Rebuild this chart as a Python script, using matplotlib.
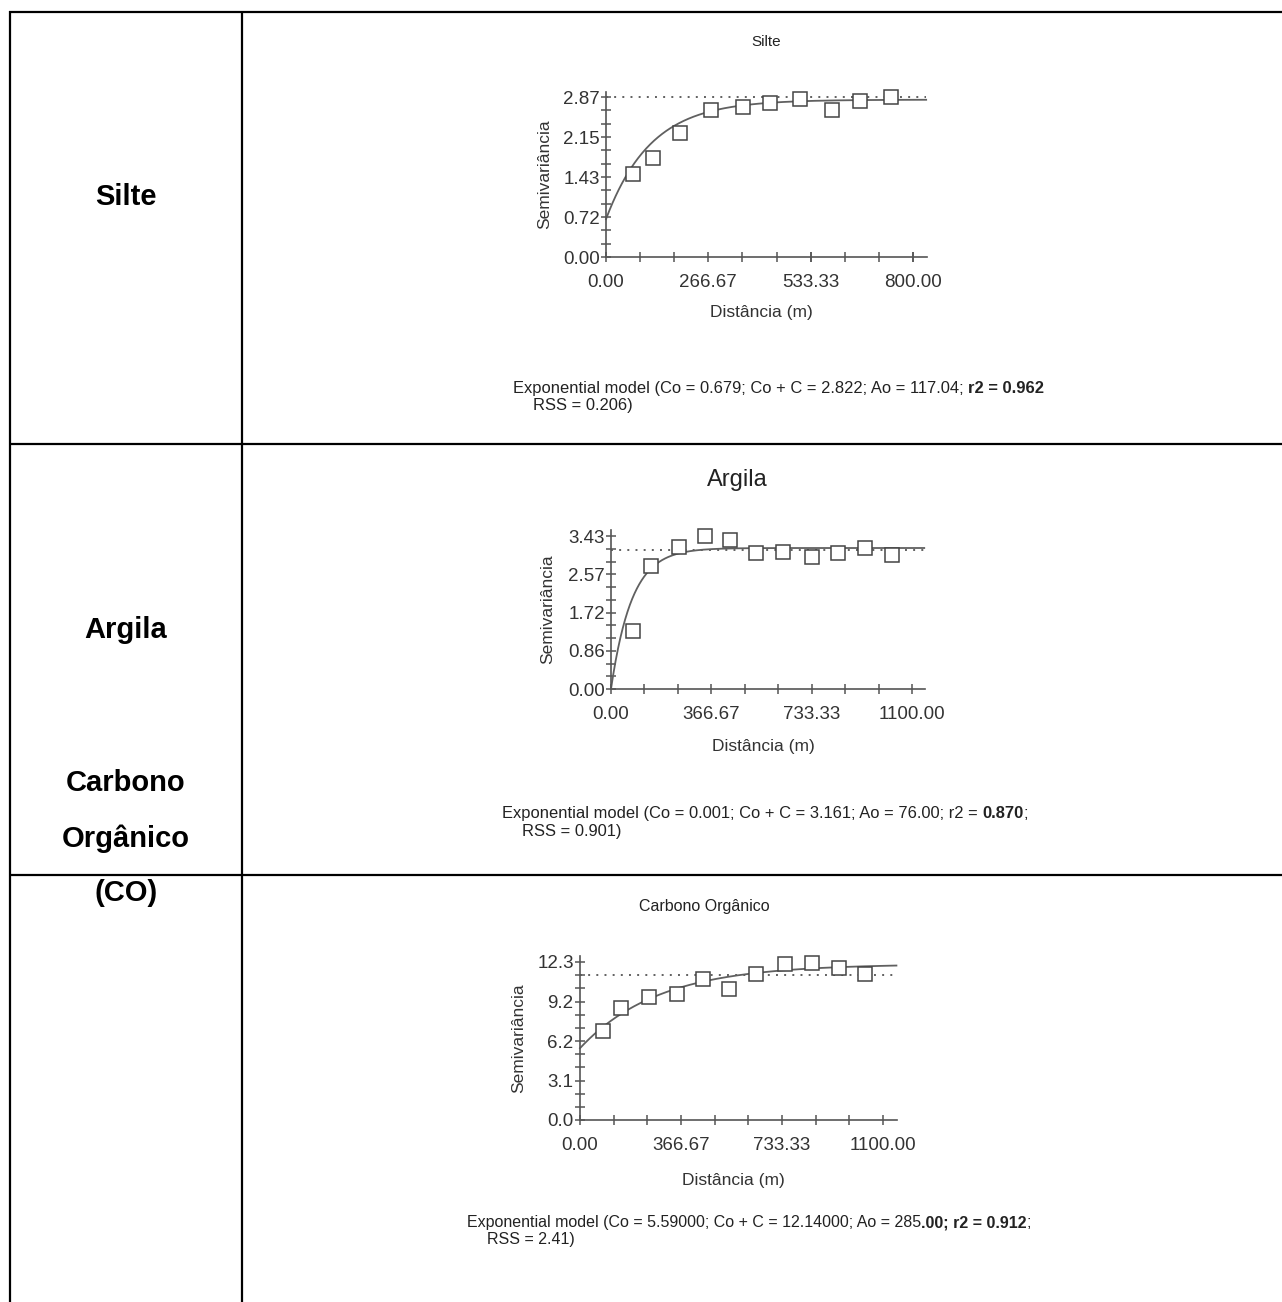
import numpy as np
import matplotlib
matplotlib.use("Agg")
import matplotlib.pyplot as plt
from matplotlib.lines import Line2D
from matplotlib.ticker import FixedLocator, FixedFormatter

plt.rcParams['font.family'] = ['Liberation Sans', 'DejaVu Sans']

# ---------------- data ----------------
row_labels = ["Silte", "Argila", "Carbono\nOrgânico\n(CO)"]
titles = ["Silte", "Argila", "Carbono Orgânico"]

# experimental semivariogram (lag distance in m, semivariance)
silte_lag = [70, 122, 193, 273, 358, 428, 506, 589, 663, 743]
silte_gamma = [1.49, 1.77, 2.22, 2.63, 2.69, 2.76, 2.83, 2.63, 2.80, 2.87]

argila_lag = [80, 146, 250, 345, 436, 531, 629, 735, 828, 929, 1027]
argila_gamma = [1.29, 2.76, 3.18, 3.43, 3.33, 3.06, 3.08, 2.97, 3.04, 3.15, 3.00]

co_lag = [85, 149, 251, 353, 447, 542, 638, 743, 843, 939, 1034]
co_gamma = [6.91, 8.73, 9.58, 9.84, 11.00, 10.23, 11.39, 12.12, 12.22, 11.86, 11.39]

# fitted exponential models: nugget Co, sill Co + C, range parameter Ao
silte_model = (0.679, 2.822, 117.04)
argila_model = (0.001, 3.161, 76.00)
co_model = (5.59, 12.14, 285.00)

# sample variance (dotted reference line)
silte_var = 2.87
argila_var = 3.12
co_var = 11.32

# axis ticks
silte_xticks = [0.00, 266.67, 533.33, 800.00]
silte_xlabels = ["0.00", "266.67", "533.33", "800.00"]
silte_yticks = [0.0, 0.7175, 1.435, 2.1525, 2.87]
silte_ylabels = ["0.00", "0.72", "1.43", "2.15", "2.87"]

argila_xticks = [0.00, 366.67, 733.33, 1100.00]
argila_xlabels = ["0.00", "366.67", "733.33", "1100.00"]
argila_yticks = [0.0, 0.8575, 1.715, 2.5725, 3.43]
argila_ylabels = ["0.00", "0.86", "1.72", "2.57", "3.43"]

co_xticks = [0.00, 366.67, 733.33, 1100.00]
co_xlabels = ["0.00", "366.67", "733.33", "1100.00"]
co_yticks = [0.0, 3.075, 6.15, 9.225, 12.3]
co_ylabels = ["0.0", "3.1", "6.2", "9.2", "12.3"]

# model captions: (text, bold?)
silte_caption = [[("Exponential model (Co = 0.679; Co + C = 2.822; Ao = 117.04; ", False),
                  ("r2 = 0.962", True)],
                 [("RSS = 0.206)", False)]]
argila_caption = [[("Exponential model (Co = 0.001; Co + C = 3.161; Ao = 76.00; r2 = ", False),
                   ("0.870", True), (";", False)],
                  [("RSS = 0.901)", False)]]
co_caption = [[("Exponential model (Co = 5.59000; Co + C = 12.14000; Ao = 285", False),
               (".00; r2 = 0.912", True), (";", False)],
              [("RSS = 2.41)", False)]]

# ---------------- figure ----------------
W, H = 1282, 1302
fig = plt.figure(figsize=(W / 100, H / 100), dpi=100)
fig.patch.set_facecolor("white")


def fx(x):
    return x / W


def fy(y):
    return 1 - y / H


# table grid
grid_kw = dict(color="black", lw=1.6, transform=fig.transFigure, solid_capstyle="butt")
fig.add_artist(Line2D([fx(10), fx(10)], [fy(11), fy(H)], **grid_kw))
fig.add_artist(Line2D([fx(242), fx(242)], [fy(11), fy(H)], **grid_kw))
for yy in (12, 444, 875):
    fig.add_artist(Line2D([fx(9), fx(W)], [fy(yy), fy(yy)], **grid_kw))

# row labels
fig.text(fx(126), fy(197), row_labels[0], ha="center", va="center",
         fontsize=21, fontweight="bold")
fig.text(fx(126), fy(630), row_labels[1], ha="center", va="center",
         fontsize=21, fontweight="bold")
fig.text(fx(126), fy(838), row_labels[2], ha="center", va="center",
         fontsize=21, fontweight="bold", linespacing=2.2)

AX_COL = "#555555"
TXT_COL = "#333333"


def panel(origin, xscale, yscale, xmax, ymax, lag, gamma, model, var,
          xticks, xlabels, yticks, ylabels, nsub_y, title, title_size, title_xy,
          ylabel_x, xlabel_y):
    ox, oy = origin
    right = ox + xmax * xscale
    top = oy - ymax * yscale
    ax = fig.add_axes([fx(ox), fy(oy), (right - ox) / W, (oy - top) / H])
    ax.set_xlim(0, xmax)
    ax.set_ylim(0, ymax)
    for s in ("top", "right"):
        ax.spines[s].set_visible(False)
    for s in ("left", "bottom"):
        ax.spines[s].set_color(AX_COL)
        ax.spines[s].set_linewidth(1.2)
    ax.patch.set_alpha(0)

    # ticks: labelled majors plus evenly spaced minors in between
    xstep = xticks[1] / 3
    xminor = [xstep * k for k in range(int(round(xticks[-1] / xstep)) + 1)]
    ystep = yticks[1] / nsub_y
    yminor = [ystep * k for k in range(int(round(yticks[-1] / ystep)) + 1)]
    ax.xaxis.set_major_locator(FixedLocator(xticks))
    ax.xaxis.set_major_formatter(FixedFormatter(xlabels))
    ax.yaxis.set_major_locator(FixedLocator(yticks))
    ax.yaxis.set_major_formatter(FixedFormatter(ylabels))
    ax.xaxis.set_minor_locator(FixedLocator(xminor))
    ax.yaxis.set_minor_locator(FixedLocator(yminor))
    for which in ("major", "minor"):
        ax.tick_params(which=which, direction="inout", length=7, width=1.1,
                       color=AX_COL)
    ax.tick_params(axis="both", which="major", labelsize=13.5, labelcolor=TXT_COL,
                   pad=1)
    ax.tick_params(axis="x", which="major", pad=9)

    # model and experimental points
    c0, sill, a0 = model
    h = np.linspace(0, xmax * 0.998, 400)
    ax.plot(h, c0 + (sill - c0) * (1 - np.exp(-h / a0)), color="#606060", lw=1.3,
            clip_on=False, zorder=2)
    ax.plot([0, xmax * 0.998], [var, var], color="#606060", lw=1.4,
            linestyle=(0, (1, 3.2)), zorder=2)
    ax.plot(lag, gamma, linestyle="none", marker="s", ms=9.5, mfc="white",
            mec="#444444", mew=1.1, clip_on=False, zorder=3)

    fig.text(fx(title_xy[0]), fy(title_xy[1]), title, ha="center", va="center",
             fontsize=title_size, color="#222222")
    fig.text(fx(ylabel_x), fy((oy + top) / 2), "Semivariância", rotation=90,
             ha="center", va="center", fontsize=12.5, color=TXT_COL)
    fig.text(fx(ox + (right - ox) / 2 - 5), fy(xlabel_y), "Distância (m)",
             ha="center", va="center", fontsize=12.5, color=TXT_COL)
    return ax


def caption(lines, x, y, dy, indent, size):
    for i, parts in enumerate(lines):
        xx = x + (indent if i else 0)
        yy = y + i * dy
        last = None
        for txt, bold in parts:
            kw = dict(fontsize=size, color="#222222",
                      fontweight="bold" if bold else "normal")
            if last is None:
                last = fig.text(fx(xx), fy(yy), txt, ha="left", va="baseline", **kw)
            else:
                last = fig.axes[0].annotate(txt, xy=(1, 0), xycoords=last,
                                            ha="left", va="bottom", **kw)


panel((606, 257), 307 / 800, 160 / 2.87, 836, 2.96, silte_lag, silte_gamma,
      silte_model, silte_var, silte_xticks, silte_xlabels, silte_yticks,
      silte_ylabels, 3, titles[0], 11, (766, 42), 545, 313)
caption(silte_caption, 513, 393, 17, 20, 11.9)

panel((611, 689), 301 / 1100, 153 / 3.43, 1147, 3.56, argila_lag, argila_gamma,
      argila_model, argila_var, argila_xticks, argila_xlabels, argila_yticks,
      argila_ylabels, 3, titles[1], 17, (737, 480), 548, 747)
caption(argila_caption, 502, 818, 18, 20, 11.9)

panel((580, 1120), 303 / 1100, 158 / 12.3, 1151, 12.77, co_lag, co_gamma,
      co_model, co_var, co_xticks, co_xlabels, co_yticks, co_ylabels, 3,
      titles[2], 11.5, (704, 907), 519, 1181)
caption(co_caption, 467, 1227, 17, 20, 11.5)

fig.savefig("out.png", dpi=100, facecolor="white")
